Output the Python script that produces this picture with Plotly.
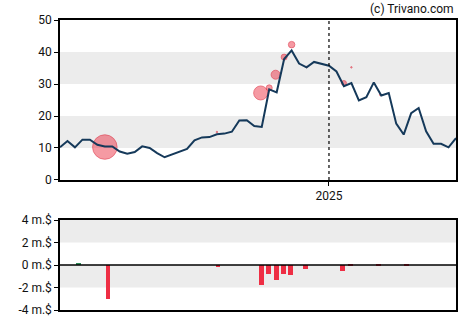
import plotly.graph_objects as go
import pandas as pd

# ---- data ----
start_date = "2024-04-24"
prices = [10.2, 12.2, 10.2, 12.6, 12.6, 11.0, 10.5, 10.5, 8.9, 8.2,
          8.75, 10.5, 10.0, 8.4, 7.1, 7.9, 8.75, 9.7, 12.4, 13.3,
          13.4, 14.3, 14.5, 15.1, 18.6, 18.7, 16.9, 16.6, 28.3, 27.4,
          37.8, 40.5, 36.4, 35.2, 36.9, 36.3, 35.7, 33.9, 29.3, 30.3,
          24.9, 25.9, 30.5, 26.4, 27.2, 17.6, 14.2, 20.9, 22.5, 15.2,
          11.3, 11.3, 10.2, 13.1]
dates = list(pd.date_range(start_date, periods=len(prices), freq="7D"))

trade_dates = ["2024-06-05", "2024-09-18", "2024-10-29", "2024-11-06", "2024-11-12",
               "2024-11-20", "2024-11-27", "2024-12-11", "2025-01-15", "2025-01-22",
               "2025-02-18"]
trade_prices = [10.3, 15.0, 27.2, 28.8, 32.9, 38.4, 42.3, 35.3, 30.3, 35.2, 26.6]
trade_sizes = [24.5, 1.5, 14, 6, 9, 6, 6.5, 1.5, 5, 1.5, 1.5]

flow_dates = ["2024-05-11", "2024-06-08", "2024-09-19", "2024-10-30", "2024-11-05",
              "2024-11-13", "2024-11-19", "2024-11-26", "2024-12-10", "2025-01-14",
              "2025-01-21", "2025-02-16", "2025-03-15"]
flow_values = [0.1, -3.0, -0.2, -1.75, -0.77, -1.3, -0.77, -0.86, -0.4, -0.5,
               -0.12, -0.12, -0.12]

price_ticks = [0, 10, 20, 30, 40, 50]
flow_ticks = [-4, -2, 0, 2, 4]
flow_ticktext = ["-4 m.$", "-2 m.$", "0 m.$", "2 m.$", "4 m.$"]
year_tick = ["2025-01-01"]
year_text = ["2025"]

# ---- figure ----
fig = go.Figure()

fig.add_trace(go.Scatter(
    x=pd.to_datetime(trade_dates), y=trade_prices, mode="markers",
    marker=dict(size=trade_sizes, sizemode="diameter",
                color="rgba(235,35,55,0.65)",
                line=dict(color="rgba(220,30,50,0.8)", width=1)),
    xaxis="x", yaxis="y", hoverinfo="skip", showlegend=False))

fig.add_trace(go.Scatter(
    x=dates, y=prices, mode="lines",
    line=dict(color="#15395a", width=2),
    xaxis="x", yaxis="y", showlegend=False))

bar_colors = ["#2e8b57" if v >= 0 else "#ee2e44" for v in flow_values]
fig.add_trace(go.Bar(
    x=pd.to_datetime(flow_dates), y=flow_values,
    marker=dict(color=bar_colors, line=dict(width=0)),
    width=4.6 * 24 * 3600 * 1000,
    xaxis="x2", yaxis="y2", showlegend=False))

xr = [dates[0], dates[-1]]
shapes = []
for lo, hi in [(10, 20), (30, 40)]:
    shapes.append(dict(type="rect", xref="x domain", yref="y", x0=0, x1=1, y0=lo, y1=hi,
                       fillcolor="#ececec", line=dict(width=0), layer="below"))
for lo, hi in [(2, 4), (-2, 0)]:
    shapes.append(dict(type="rect", xref="x2 domain", yref="y2", x0=0, x1=1, y0=lo, y1=hi,
                       fillcolor="#ececec", line=dict(width=0), layer="below"))
shapes.append(dict(type="line", xref="x", yref="y domain", x0=year_tick[0], x1=year_tick[0],
                   y0=0, y1=1, line=dict(color="#000", width=1.2, dash="dot")))
shapes.append(dict(type="line", xref="x2 domain", yref="y2", x0=0, x1=1, y0=0, y1=0,
                   line=dict(color="#000", width=1.5)))

font = dict(family="Roboto, Arial, sans-serif", size=12, color="#111")
axis_common = dict(showline=True, linecolor="#000", linewidth=1.5, mirror=True,
                   showgrid=False, zeroline=False, tickfont=font, automargin=False)

fig.update_layout(
    template="none",
    width=470, height=325,
    margin=dict(l=60, r=14, t=20, b=15, pad=0, autoexpand=False),
    paper_bgcolor="white", plot_bgcolor="white",
    shapes=shapes,
    bargap=0,
    xaxis=dict(domain=[0, 1], anchor="y", range=xr, tickvals=year_tick, ticktext=year_text,
               ticks="outside", ticklen=4, tickcolor="#000", **axis_common),
    yaxis=dict(domain=[0.4483, 1], anchor="x", range=[0, 50], tickvals=price_ticks,
               ticks="outside", ticklen=4, tickcolor="#000", **axis_common),
    xaxis2=dict(domain=[0, 1], anchor="y2", range=xr, showticklabels=False,
                ticks="", **axis_common),
    yaxis2=dict(domain=[0, 0.3103], anchor="x2", range=[-4, 4], tickvals=flow_ticks,
                ticktext=flow_ticktext, ticks="outside", ticklen=4, tickcolor="#000",
                **axis_common),
    annotations=[dict(text="(c) Trivano.com", xref="paper", yref="paper", x=1, y=1,
                      xanchor="right", yanchor="bottom", yshift=2, showarrow=False,
                      font=font)],
)

fig.write_html("out.html")
